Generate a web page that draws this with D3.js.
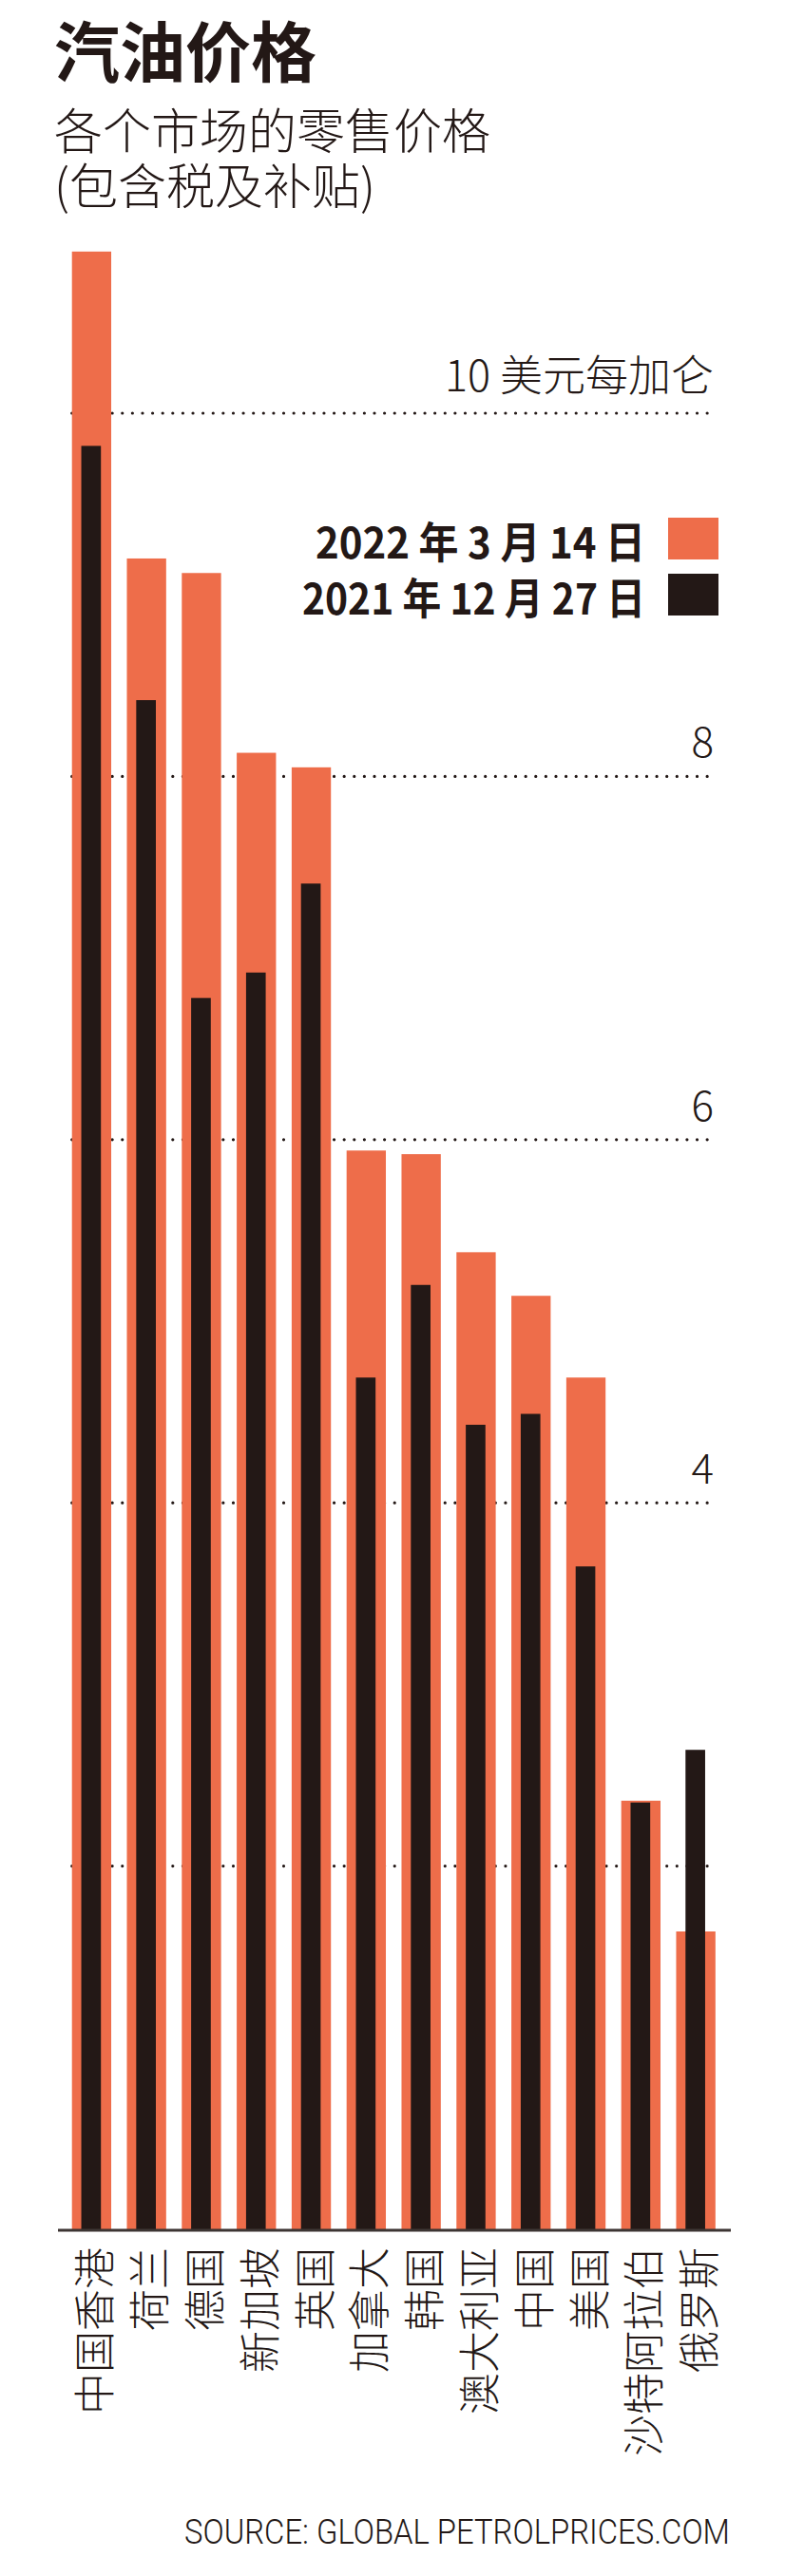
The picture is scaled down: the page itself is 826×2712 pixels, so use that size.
<!DOCTYPE html>
<html>
<head>
<meta charset="utf-8">
<script src="https://cdn.jsdelivr.net/npm/d3@7/dist/d3.min.js"></script>
<style>
  html, body { margin: 0; padding: 0; background: #fff; }
  svg { display: block; }
</style>
</head>
<body>
<div id="chart"></div>
<script>
const categories = ["中国香港","荷兰","德国","新加坡","英国","加拿大","韩国","澳大利亚","中国","美国","沙特阿拉伯","俄罗斯"];
const mar2022 = [10.89, 9.20, 9.12, 8.13, 8.05, 5.94, 5.92, 5.38, 5.14, 4.69, 2.36, 1.64];
const dec2021 = [9.82, 8.42, 6.78, 6.92, 7.41, 4.69, 5.20, 4.43, 4.49, 3.65, 2.35, 2.64];
const seriesNames = ["2022 年 3 月 14 日", "2021 年 12 月 27 日"];
const seriesColors = ["#ee6d4a", "#231816"];
const gridTicks = [2, 4, 6, 8, 10];
const tickLabelValues = [4, 6, 8, 10];
const tickLabelTexts = ["4", "6", "8", "10 美元每加仑"];
const titleText = "汽油价格";
const subtitleLines = ["各个市场的零售价格", "(包含税及补贴)"];
const sourceText = "SOURCE: GLOBAL PETROLPRICES.COM";

const W = 826, H = 2712;
const CJK = "'Noto Sans CJK SC', 'Noto Sans', sans-serif";
const ink = "#231816";

const svg = d3.select("#chart").append("svg")
  .attr("width", W).attr("height", H)
  .attr("viewBox", `0 0 ${W} ${H}`);
svg.append("rect").attr("width", W).attr("height", H).attr("fill", "#fff");

// Title
svg.append("text").attr("x", 57).attr("y", 81)
  .attr("font-family", CJK).attr("font-weight", 700).attr("font-size", 69)
  .attr("fill", ink).text(titleText);
svg.selectAll("text.sub").data(subtitleLines).join("text").attr("class", "sub")
  .attr("x", 57).attr("y", (d, i) => 157 + i * 58)
  .attr("font-family", CJK).attr("font-weight", 300).attr("font-size", 51)
  .attr("fill", ink).text(d => d);

// Scales
const x = d3.scaleBand().domain(categories).range([75.7, 752.8]).paddingInner(0.285).paddingOuter(0);
const y = d3.scaleLinear().domain([0, 10]).range([2347, 435]);
const gridX0 = x(categories[0]);
const gridX1 = 751;

// Gridlines (dotted)
svg.append("g").selectAll("line").data(gridTicks).join("line")
  .attr("x1", gridX0).attr("x2", gridX1)
  .attr("y1", d => y(d)).attr("y2", d => y(d))
  .attr("stroke", ink).attr("stroke-width", 3.2)
  .attr("stroke-linecap", "round")
  .attr("stroke-dasharray", "0.01 10.6");

// Tick labels
svg.append("g").selectAll("text").data(tickLabelValues).join("text")
  .attr("x", 751).attr("y", d => y(d) - (d === 10 ? 23 : 20))
  .attr("text-anchor", "end")
  .attr("font-family", CJK).attr("font-weight", 300)
  .attr("font-size", (d) => d === 10 ? 45 : 44)
  .attr("fill", ink)
  .text((d, i) => tickLabelTexts[i]);

// Bars
const bw = x.bandwidth();
svg.append("g").selectAll("rect").data(categories).join("rect")
  .attr("x", d => x(d)).attr("width", bw)
  .attr("y", (d, i) => y(mar2022[i])).attr("height", (d, i) => y(0) - y(mar2022[i]))
  .attr("fill", seriesColors[0]);
const bw2 = bw * 0.5;
svg.append("g").selectAll("rect").data(categories).join("rect")
  .attr("x", d => x(d) + (bw - bw2) / 2 - 0.5).attr("width", bw2)
  .attr("y", (d, i) => y(dec2021[i])).attr("height", (d, i) => y(0) - y(dec2021[i]))
  .attr("fill", seriesColors[1]);

// Baseline
svg.append("line").attr("x1", 61).attr("x2", 769)
  .attr("y1", y(0) + 1).attr("y2", y(0) + 1)
  .attr("stroke", "#3d3533").attr("stroke-width", 3);

// Category labels (rotated, reading bottom to top)
svg.append("g").selectAll("text").data(categories).join("text")
  .attr("transform", d => `translate(${x(d) + bw / 2 + 1},2366) rotate(-90)`)
  .attr("text-anchor", "end")
  .attr("dominant-baseline", "central")
  .attr("font-family", CJK).attr("font-weight", 300).attr("font-size", 44)
  .attr("fill", ink).text(d => d);

// Legend
const legY = [588, 647];
const legW = [347, 361];
const legend = svg.append("g");
legend.selectAll("text").data(seriesNames).join("text")
  .attr("x", 679).attr("y", (d, i) => legY[i])
  .attr("text-anchor", "end")
  .attr("textLength", (d, i) => legW[i]).attr("lengthAdjust", "spacingAndGlyphs")
  .attr("font-family", CJK).attr("font-weight", 700).attr("font-size", 45)
  .attr("fill", ink).text(d => d);
legend.selectAll("rect").data(seriesNames).join("rect")
  .attr("x", 703).attr("width", 53)
  .attr("y", (d, i) => legY[i] - 43).attr("height", 44)
  .attr("fill", (d, i) => seriesColors[i]);

// Source
svg.append("text").attr("x", 768).attr("y", 2678)
  .attr("text-anchor", "end")
  .attr("font-family", "'Roboto', 'Liberation Sans', sans-serif").attr("font-weight", 300)
  .attr("font-size", 36)
  .attr("textLength", 574).attr("lengthAdjust", "spacingAndGlyphs")
  .attr("fill", ink).text(sourceText);
</script>
</body>
</html>
